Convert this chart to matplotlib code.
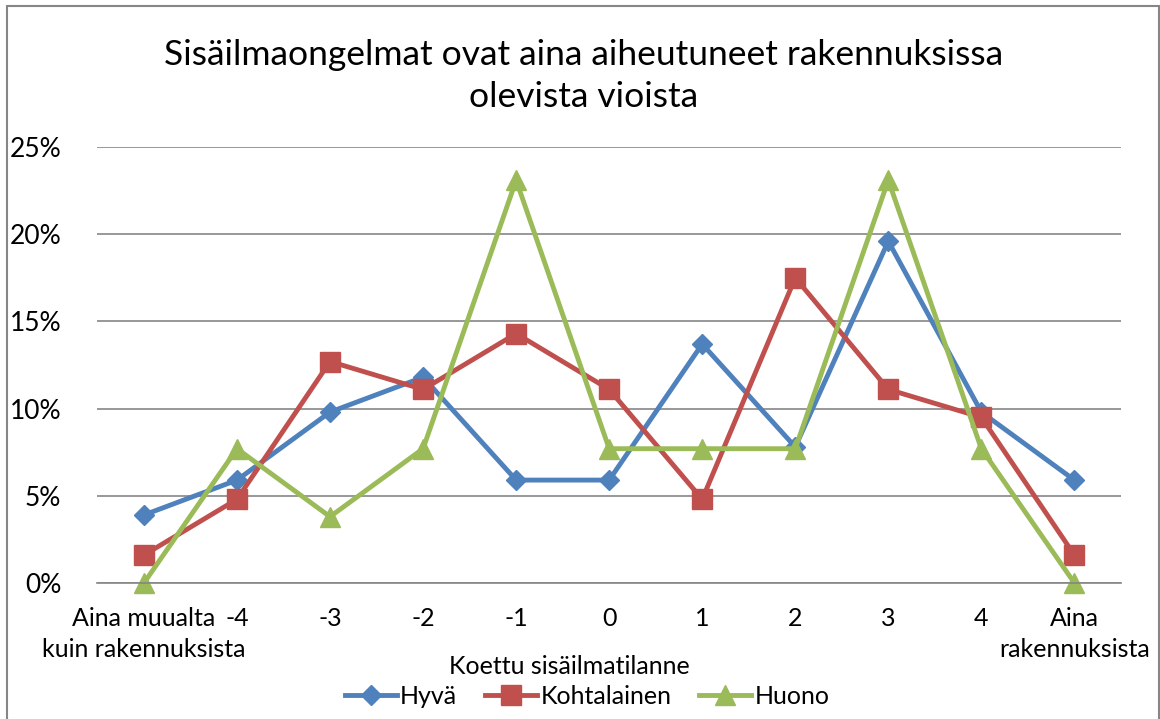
import matplotlib.pyplot as plt
from matplotlib.patches import Rectangle
from matplotlib.ticker import PercentFormatter

plt.rcParams['font.family'] = ['Lato', 'DejaVu Sans']

# Categories on the x axis
categories = ["Aina muualta\nkuin rakennuksista", "-4", "-3", "-2", "-1", "0",
              "1", "2", "3", "4", "Aina\nrakennuksista"]

# Share of answers per group (%)
hyva = [3.9, 5.9, 9.8, 11.8, 5.9, 5.9, 13.7, 7.8, 19.6, 9.8, 5.9]
kohtalainen = [1.6, 4.8, 12.7, 11.1, 14.3, 11.1, 4.8, 17.5, 11.1, 9.5, 1.6]
huono = [0.0, 7.7, 3.8, 7.7, 23.1, 7.7, 7.7, 7.7, 23.1, 7.7, 0.0]

series_names = ["Hyvä", "Kohtalainen", "Huono"]
colors = ["#4F81BD", "#C0504D", "#9BBB59"]
markers = ["D", "s", "^"]
msizes = [10, 14, 15]

fig = plt.figure(figsize=(11.6, 7.19), dpi=100)
ax = fig.add_axes([0.084, 0.1892, 0.8823, 0.6063])

x = range(len(categories))
handles = []
for vals, name, c, m, ms in zip([hyva, kohtalainen, huono], series_names, colors, markers, msizes):
    h, = ax.plot(x, vals, color=c, lw=3.5, marker=m, markersize=ms,
                 markerfacecolor=c, markeredgecolor=c, label=name, clip_on=False)
    handles.append(h)

ax.set_xlim(-0.5, len(categories) - 0.5)
ax.set_ylim(0, 25)
ax.set_yticks([0, 5, 10, 15, 20, 25])
ax.yaxis.set_major_formatter(PercentFormatter(decimals=0))
ax.set_xticks(list(x))
ax.set_xticklabels(categories, fontsize=18, linespacing=1.45)
ax.tick_params(axis='y', length=0, pad=26, labelsize=19)
ax.tick_params(axis='x', length=0, pad=17)
ax.grid(axis='y', color='#868686', lw=1.2)
ax.set_axisbelow(True)
for s in ['top', 'right', 'left']:
    ax.spines[s].set_visible(False)
ax.spines['bottom'].set_color('#868686')
ax.spines['bottom'].set_linewidth(1.2)

# title
fig.text(0.503, 1 - 76 / 719, "Sisäilmaongelmat ovat aina aiheutuneet rakennuksissa\nolevista vioista",
         ha='center', va='center', fontsize=25.5, linespacing=1.35)

# x axis title
fig.text(0.491, 1 - 666 / 719, "Koettu sisäilmatilanne", ha='center', va='center', fontsize=18)

fig.legend(handles=handles, loc='center', bbox_to_anchor=(0.506, 1 - 696 / 719), ncol=3,
           frameon=False, fontsize=18, handlelength=2.1, handletextpad=0.12,
           columnspacing=1.1, borderaxespad=0)

# chart border
fig.patches.append(Rectangle((7 / 1160, -0.05), 1152 / 1160, 1.05 - 6 / 719,
                             transform=fig.transFigure, fill=False,
                             edgecolor='#868686', lw=1.5))

fig.savefig("out.png", dpi=100)
